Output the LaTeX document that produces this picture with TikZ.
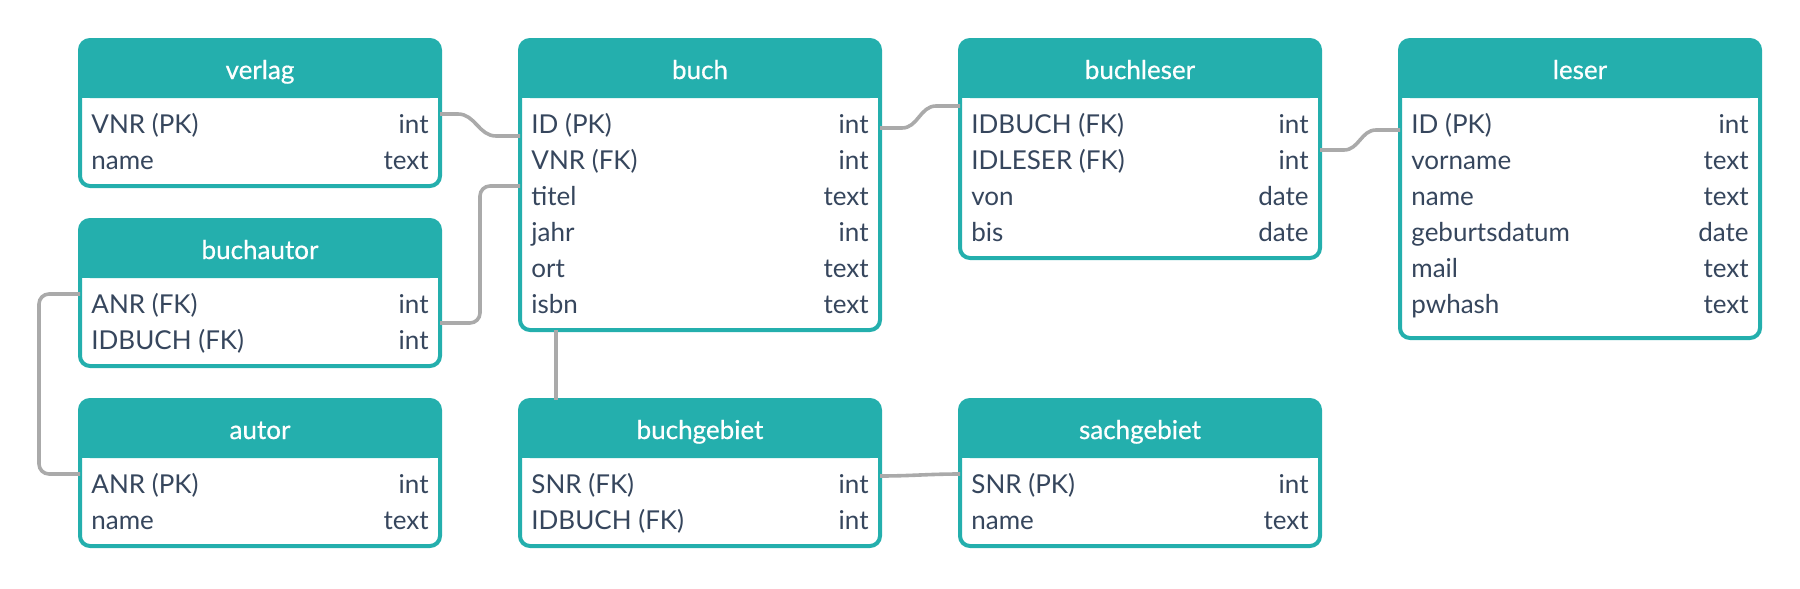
\documentclass[tikz,border=0pt]{standalone}
\usepackage{fontspec}
\setmainfont{Lato}
\newfontfamily\kopfschrift{Lato}[FakeBold=0.6]
\usetikzlibrary{calc}
\definecolor{kopfgruen}{RGB}{36,175,173}
\definecolor{schrift}{RGB}{54,70,93}
\definecolor{linie}{RGB}{170,170,170}
\tikzset{
  rahmen/.style={draw=kopfgruen, fill=white, line width=2pt, rounded corners=5pt,
    minimum width=180pt, inner sep=0pt, outer sep=0pt},
  kopf/.style={fill=kopfgruen},
  titel/.style={anchor=base, inner sep=0pt, text=white, font=\kopfschrift\fontsize{13}{15}\selectfont},
  feld/.style={anchor=base west, inner sep=0pt, text height=8pt, text depth=2pt,
    text=schrift, font=\fontsize{13}{15}\selectfont},
  typ/.style={feld, anchor=base east},
  verbindung/.style={draw=linie, line width=1.8pt}
}
% table: name, x, y, height, title
\newcommand{\tabelle}[5]{%
  \node[rahmen, minimum height=#4*0.5pt, anchor=north west] (#1) at (#2,#3) {};
  \fill[kopf, rounded corners=5pt] (#1.north west) rectangle ($(#1.north east)+(0,58)$);
  \fill[kopf] ($(#1.north west)+(0,30)$) rectangle ($(#1.north east)+(0,58)$);
  \node[titel] at ($(#1.north)+(0,39)$) {#5};
}
% row: table, index, field, type
\newcommand{\zeile}[4]{%
  \node[feld] (#1-#2) at ($(#1.north west)+(11,93+36*#2)$) {#3};
  \node[typ] at ($(#1.north east)+(-11,93+36*#2)$) {#4};
}
\begin{document}
\begin{tikzpicture}[x=0.5pt,y=-0.5pt]
\useasboundingbox (0,0) rectangle (1800,589);

\tabelle{verlag}{80}{40}{146}{verlag}
\zeile{verlag}{0}{VNR (PK)}{int}
\zeile{verlag}{1}{name}{text}

\tabelle{buch}{520}{40}{290}{buch}
\zeile{buch}{0}{ID (PK)}{int}
\zeile{buch}{1}{VNR (FK)}{int}
\zeile{buch}{2}{titel}{text}
\zeile{buch}{3}{jahr}{int}
\zeile{buch}{4}{ort}{text}
\zeile{buch}{5}{isbn}{text}

\tabelle{buchleser}{960}{40}{218}{buchleser}
\zeile{buchleser}{0}{IDBUCH (FK)}{int}
\zeile{buchleser}{1}{IDLESER (FK)}{int}
\zeile{buchleser}{2}{von}{date}
\zeile{buchleser}{3}{bis}{date}

\tabelle{leser}{1400}{40}{298}{leser}
\zeile{leser}{0}{ID (PK)}{int}
\zeile{leser}{1}{vorname}{text}
\zeile{leser}{2}{name}{text}
\zeile{leser}{3}{geburtsdatum}{date}
\zeile{leser}{4}{mail}{text}
\zeile{leser}{5}{pwhash}{text}

\tabelle{buchautor}{80}{220}{146}{buchautor}
\zeile{buchautor}{0}{ANR (FK)}{int}
\zeile{buchautor}{1}{IDBUCH (FK)}{int}

\tabelle{autor}{80}{400}{146}{autor}
\zeile{autor}{0}{ANR (PK)}{int}
\zeile{autor}{1}{name}{text}

\tabelle{buchgebiet}{520}{400}{146}{buchgebiet}
\zeile{buchgebiet}{0}{SNR (FK)}{int}
\zeile{buchgebiet}{1}{IDBUCH (FK)}{int}

\tabelle{sachgebiet}{960}{400}{146}{sachgebiet}
\zeile{sachgebiet}{0}{SNR (PK)}{int}
\zeile{sachgebiet}{1}{name}{text}

% links
\draw[verbindung] ($(verlag.east|-verlag-0)+(0,-13)$) -- ++(18,0)
  to[out=0,in=180] ($(buch.west|-buch-0)+(-24,9)$) -- ($(buch.west|-buch-0)+(0,9)$);
\draw[verbindung] ($(buch.east|-buch-0)+(0,1)$) -- ++(22,0)
  to[out=0,in=180] ($(buchleser.west|-buchleser-0)+(-24,-21)$) -- ($(buchleser.west|-buchleser-0)+(0,-21)$);
\draw[verbindung] ($(buchleser.east|-buchleser-1)+(0,-13)$) -- ++(24,0)
  to[out=0,in=180] ($(leser.west|-leser-0)+(-24,3)$) -- ($(leser.west|-leser-0)+(0,3)$);
\draw[verbindung, rounded corners=5pt] ($(buch.west|-buch-2)+(0,-13)$) -- ++(-40,0)
  |- ($(buchautor.east|-buchautor-1)+(0,-20)$);
\draw[verbindung, rounded corners=5pt] ($(buchautor.west|-buchautor-0)+(0,-13)$) -- ++(-41,0)
  |- ($(autor.west|-autor-0)+(0,-13)$);
\draw[verbindung] ($(buch.south west)+(36,0)$) -- ($(buchgebiet.north west)+(36,0)$);
\draw[verbindung] ($(buchgebiet.east|-buchgebiet-0)+(0,-11)$)
  to[out=0,in=180] ($(sachgebiet.west|-sachgebiet-0)+(0,-13)$);
\end{tikzpicture}
\end{document}
